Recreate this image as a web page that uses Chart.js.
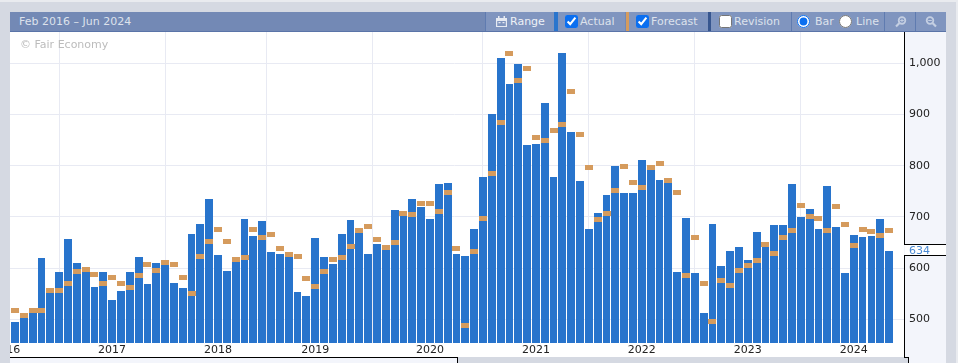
<!DOCTYPE html>
<html><head><meta charset="utf-8">
<script src="https://cdn.jsdelivr.net/npm/chart.js@4"></script>
<style>
html,body{margin:0;padding:0;width:958px;height:363px;overflow:hidden;background:#d5d9e2;font-family:"DejaVu Sans",sans-serif;}
.a{position:absolute;}
#top{left:0;top:0;width:958px;height:2px;background:#e9ebef;z-index:5}
#rt{left:956px;top:0;width:2px;height:363px;background:#e9ebef;z-index:5}
#plot{left:10px;top:32px;width:894px;height:325px;background:#fff;z-index:0}
#panel{left:904px;top:32px;width:42px;height:331px;background:#f3f5fb;z-index:0}
#gap{left:905px;top:244px;width:41px;height:12px;background:#fff;z-index:0}
canvas{position:absolute;left:0;top:0;z-index:1}
#left{left:0;top:0;width:10px;height:363px;background:#d5d9e2;z-index:3}
.k{background:#000;z-index:4}
#hdr{left:10px;top:12px;width:936px;height:20px;background:#7389b5;border-bottom:1px solid #5a74a8;box-sizing:border-box;z-index:4;color:#dde2ec;font-size:11px;line-height:19px}
.seg{top:0;height:19px;background:#8095bf;}
.sep{top:0;height:19px;width:1px;background:#5f7bb0}
.t{top:0;white-space:nowrap}
input{position:absolute;margin:0;width:13px;height:13px;top:3px;accent-color:#0b6ff0}
#wm{left:20px;top:38px;color:#bcbcbc;font-size:11px;z-index:4;white-space:nowrap}
#lo{left:10px;top:358px;width:447px;height:5px;background:#f3f5fb;z-index:3}
#hi{left:458px;top:358px;width:450px;height:5px;background:#d5d9e2;z-index:3}
</style></head><body>
<div class="a" id="top"></div><div class="a" id="rt"></div>
<div class="a" id="plot"></div><div class="a" id="panel"></div><div class="a" id="gap"></div>
<canvas id="c" width="958" height="363"></canvas>
<div class="a" id="left"></div>
<div class="a" id="lo"></div><div class="a" id="hi"></div>
<div class="a k" style="left:10px;top:357px;width:448px;height:1px"></div>
<div class="a k" style="left:457px;top:357px;width:1px;height:6px"></div>
<div class="a k" style="left:904px;top:32px;width:1px;height:213px"></div>
<div class="a k" style="left:904px;top:255px;width:1px;height:103px"></div>
<div class="a k" style="left:904px;top:244px;width:42px;height:1px"></div>
<div class="a k" style="left:904px;top:255px;width:42px;height:1px"></div>
<div class="a k" style="left:904px;top:357px;width:5px;height:1px"></div>
<div class="a k" style="left:908px;top:357px;width:1px;height:6px"></div>
<div class="a" id="wm">© Fair Economy</div>
<div class="a" id="hdr">
  <div class="a t" style="left:9px">Feb 2016 – Jun 2024</div>
  <div class="a seg" style="left:476px;width:68px"></div>
  <div class="a sep" style="left:475px"></div>
  <svg class="a" style="left:485px;top:4px" width="13" height="12" viewBox="0 0 13 12"><path fill="#e6eaf2" d="M1 2h2V0h1.500v2h4V0H10v2h2v9H1zM2.200 5v5h8.600V5z"/><path fill="#e6eaf2" d="M3.500 6h2v1.300h-2zM7.500 6h2v1.300h-2z"/></svg>
  <div class="a t" style="left:500px;color:#eef1f6">Range</div>
  <div class="a seg" style="left:548px;width:67px"></div>
  <div class="a" style="left:544px;top:0;width:4px;height:19px;background:#2a75cd"></div>
  <input type="checkbox" checked style="left:555px">
  <div class="a t" style="left:570px">Actual</div>
  <div class="a seg" style="left:619px;width:79px"></div>
  <div class="a" style="left:616px;top:0;width:3px;height:19px;background:#d59b5d"></div>
  <input type="checkbox" checked style="left:626px">
  <div class="a t" style="left:641px">Forecast</div>
  <div class="a seg" style="left:701px;width:80px"></div>
  <div class="a" style="left:698px;top:0;width:3px;height:19px;background:#37568f"></div>
  <input type="checkbox" style="left:709px">
  <div class="a t" style="left:724px">Revision</div>
  <div class="a seg" style="left:782px;width:92px"></div>
  <div class="a sep" style="left:781px"></div>
  <input type="radio" name="m" checked style="left:787px">
  <div class="a t" style="left:805px">Bar</div>
  <input type="radio" name="m" style="left:829px">
  <div class="a t" style="left:846px">Line</div>
  <div class="a seg" style="left:875px;width:30px"></div>
  <div class="a sep" style="left:874px"></div>
  <svg class="a" style="left:884px;top:4px" width="13" height="12" viewBox="0 0 13 12"><circle cx="8" cy="4.500" r="3.300" fill="none" stroke="#c4cfe2" stroke-width="1.800"/><path d="M5.500 7 2 10.500" stroke="#c4cfe2" stroke-width="2.200"/><path d="M6.200 4.500h3.600M8 2.700v3.600" stroke="#c4cfe2"/></svg>
  <div class="a seg" style="left:906px;width:30px"></div>
  <div class="a sep" style="left:905px"></div>
  <svg class="a" style="left:915px;top:4px" width="13" height="12" viewBox="0 0 13 12"><circle cx="5" cy="4.500" r="3.300" fill="none" stroke="#c4cfe2" stroke-width="1.800"/><path d="M7.500 7 11 10.500" stroke="#c4cfe2" stroke-width="2.200"/><path d="M3.200 4.500h3.600" stroke="#c4cfe2"/></svg>
</div>
<script>
const actual = [495,505,512,620,552,593,656,610,595,563,593,538,556,593,622,569,610,608,571,561,667,687,734,626,595,614,
 695,663,691,632,628,624,554,546,658,622,608,667,693,671,628,648,636,714,703,734,720,695,765,767,628,624,677,777,
 900,1010,960,999,841,843,923,777,1020,865,771,677,708,742,800,746,746,812,802,773,766,593,697,591,512,687,
 605,634,642,616,671,642,685,685,764,699,716,677,760,681,591,665,661,663,695,634];
const forecast = [518,508,518,518,557,557,571,595,599,589,571,583,571,563,587,608,597,612,608,583,552,624,652,677,652,618,
 622,677,661,667,640,628,624,581,565,595,618,622,644,675,683,656,642,650,707,705,728,728,712,748,640,489,634,697,
 785,886,1020,968,991,857,851,869,882,946,861,797,695,708,752,799,768,758,797,806,772,748,587,660,571,497,
 577,567,597,607,616,648,630,661,675,724,702,697,675,722,687,646,677,673,665,675];
const yearTickIndex = [-1,11,23,34,47,59,71,83,95];
const yearLabels = ['2016','2017','2018','2019','2020','2021','2022','2023','2024'];
const valueTicks = [500,600,634,700,800,900,1000];

const marker = document.createElement('canvas');
marker.width = 8; marker.height = 5;
const mc = marker.getContext('2d'); mc.fillStyle = '#d59b5d'; mc.fillRect(0,0,8,5);

// Snap the library's computed element geometry to whole pixels for crisp edges
const snapPlugin = {
  id:'snap',
  beforeDatasetsDraw(chart){
    chart.getDatasetMeta(0).data.forEach(p=>{p.x=Math.round(p.x);p.y=Math.round(p.y)+0.5;});
    chart.getDatasetMeta(1).data.forEach(b=>{
      const l=Math.round(b.x-b.width/2), r=Math.round(b.x+b.width/2);
      b.x=(l+r)/2; b.width=r-l; b.y=Math.round(b.y);
    });
  }
};

new Chart(document.getElementById('c'), {
  type:'bar',
  plugins:[snapPlugin],
  data:{datasets:[
    {type:'line',label:'Forecast',data:forecast.map((y,x)=>({x,y})),showLine:false,pointStyle:marker,pointRadius:4,order:1},
    {type:'bar',label:'Actual',data:actual.map((y,x)=>({x,y})),backgroundColor:'#2874cc',barPercentage:1,categoryPercentage:0.885,order:2}
  ]},
  options:{
    responsive:false,animation:false,
    layout:{padding:{top:32,left:0,right:0,bottom:0}},
    plugins:{legend:{display:false},tooltip:{enabled:false}},
    scales:{
      x:{type:'linear',min:-1.132,max:100.69,offset:false,
        afterBuildTicks(s){s.ticks=yearTickIndex.map(v=>({value:v}));},
        afterFit(s){s.height=20;s.paddingLeft=0;s.paddingRight=0;},
        grid:{color:'#e8eaf3',drawTicks:false},border:{display:false},
        ticks:{autoSkip:false,maxRotation:0,padding:1,color:'#222',font:{family:'"DejaVu Sans"',size:11},
          callback(v){const i=yearTickIndex.indexOf(v);return i<0?'':yearLabels[i];}}},
      y:{position:'right',min:453.7,max:1061.1,
        afterBuildTicks(s){s.ticks=valueTicks.map(v=>({value:v}));},
        afterFit(s){s.width=54;s.paddingTop=0;s.paddingBottom=0;},
        grid:{color:c=>c.tick&&c.tick.value===634?'transparent':'#e8eaf3',drawTicks:false},border:{display:false},
        ticks:{autoSkip:false,padding:5,crossAlign:'near',
          color:c=>c.tick&&c.tick.value===634?'#4a8ad4':'#222',font:{family:'"DejaVu Sans"',size:11},
          callback(v){return v.toLocaleString('en-US');}}}
    }
  }
});
</script></body></html>
